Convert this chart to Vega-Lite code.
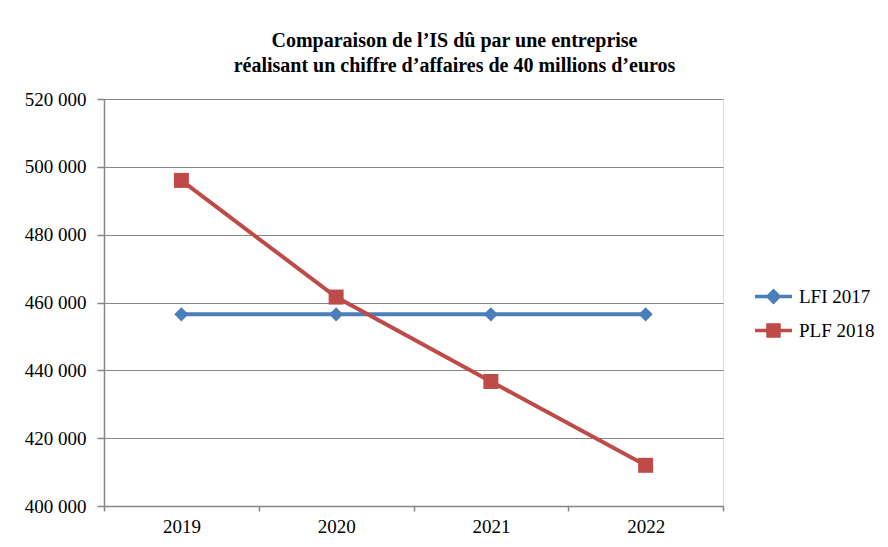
{
  "$schema": "https://vega.github.io/schema/vega-lite/v6.json",
  "autosize": "none",
  "width": 619,
  "height": 407,
  "padding": {"left": 104, "top": 99, "right": 165, "bottom": 41},
  "background": "white",
  "title": {
    "text": ["Comparaison de l’IS dû par une entreprise", "réalisant un chiffre d’affaires de 40 millions d’euros"],
    "font": "Liberation Serif",
    "fontSize": 20,
    "fontWeight": "bold",
    "color": "black",
    "lineHeight": 25,
    "anchor": "middle",
    "dx": 41,
    "offset": 14
  },
  "data": {
    "values": [
      {"annee": "2019", "serie": "LFI 2017", "is": 456500},
      {"annee": "2020", "serie": "LFI 2017", "is": 456500},
      {"annee": "2021", "serie": "LFI 2017", "is": 456500},
      {"annee": "2022", "serie": "LFI 2017", "is": 456500},
      {"annee": "2019", "serie": "PLF 2018", "is": 496000},
      {"annee": "2020", "serie": "PLF 2018", "is": 461600},
      {"annee": "2021", "serie": "PLF 2018", "is": 436700},
      {"annee": "2022", "serie": "PLF 2018", "is": 412000}
    ]
  },
  "encoding": {
    "x": {
      "field": "annee",
      "type": "ordinal",
      "scale": {"type": "band", "paddingInner": 0, "paddingOuter": 0},
      "axis": {
        "title": null,
        "labelAngle": 0,
        "tickBand": "extent",
        "domainColor": "#868686",
        "domainWidth": 1.5,
        "tickColor": "#868686",
        "tickWidth": 1.5,
        "tickSize": 5,
        "labelFont": "Liberation Serif",
        "labelFontSize": 19,
        "labelColor": "black",
        "labelPadding": 6,
        "grid": false
      }
    },
    "y": {
      "field": "is",
      "type": "quantitative",
      "scale": {"domain": [400000, 520000], "nice": false, "zero": false},
      "axis": {
        "title": null,
        "values": [400000, 420000, 440000, 460000, 480000, 500000, 520000],
        "labelExpr": "format(datum.value / 1000, 'd') + ' 000'",
        "domainColor": "#868686",
        "domainWidth": 1.5,
        "tickColor": "#868686",
        "tickWidth": 1.5,
        "tickSize": 7,
        "gridColor": "#868686",
        "gridWidth": 1,
        "labelFont": "Liberation Serif",
        "labelFontSize": 19,
        "labelColor": "black",
        "labelPadding": 11
      }
    },
    "color": {
      "field": "serie",
      "type": "nominal",
      "scale": {"domain": ["LFI 2017", "PLF 2018"], "range": ["#4A7EBB", "#BE4B48"]},
      "legend": {
        "title": null,
        "orient": "none",
        "legendX": 651,
        "legendY": 188,
        "rowPadding": 9,
        "symbolSize": 100,
        "symbolType": "M-3.7,0L3.7,0",
        "symbolStrokeWidth": 3.5,
        "labelFont": "Liberation Serif",
        "labelFontSize": 19,
        "labelColor": "black",
        "labelOffset": 25,
        "encode": {
          "symbols": {
            "update": {
              "shape": {"signal": "datum.value === 'LFI 2017' ? 'M-3.7,0L3.7,0M0,-1.1L1.1,0L0,1.1L-1.1,0Z' : 'M-3.7,0L3.7,0M-1.1,-1.1L1.1,-1.1L1.1,1.1L-1.1,1.1Z'"},
              "stroke": {"signal": "datum.value === 'LFI 2017' ? '#4A7EBB' : '#BE4B48'"},
              "fill": {"signal": "datum.value === 'LFI 2017' ? '#4A7EBB' : '#BE4B48'"},
              "strokeWidth": {"value": 3.5},
              "strokeOpacity": {"value": 1},
              "fillOpacity": {"value": 1},
              "opacity": {"value": 1},
              "xc": {"value": 18.5}
            }
          }
        }
      }
    }
  },
  "layer": [
    {
      "mark": {"type": "line", "strokeWidth": 4},
      "encoding": {}
    },
    {
      "transform": [{"filter": "datum.serie === 'LFI 2017'"}],
      "mark": {"type": "point", "filled": true, "opacity": 1, "shape": "diamond", "size": 200},
      "encoding": {}
    },
    {
      "transform": [{"filter": "datum.serie === 'PLF 2018'"}],
      "mark": {"type": "point", "filled": true, "opacity": 1, "shape": "square", "size": 225},
      "encoding": {}
    }
  ]
}
